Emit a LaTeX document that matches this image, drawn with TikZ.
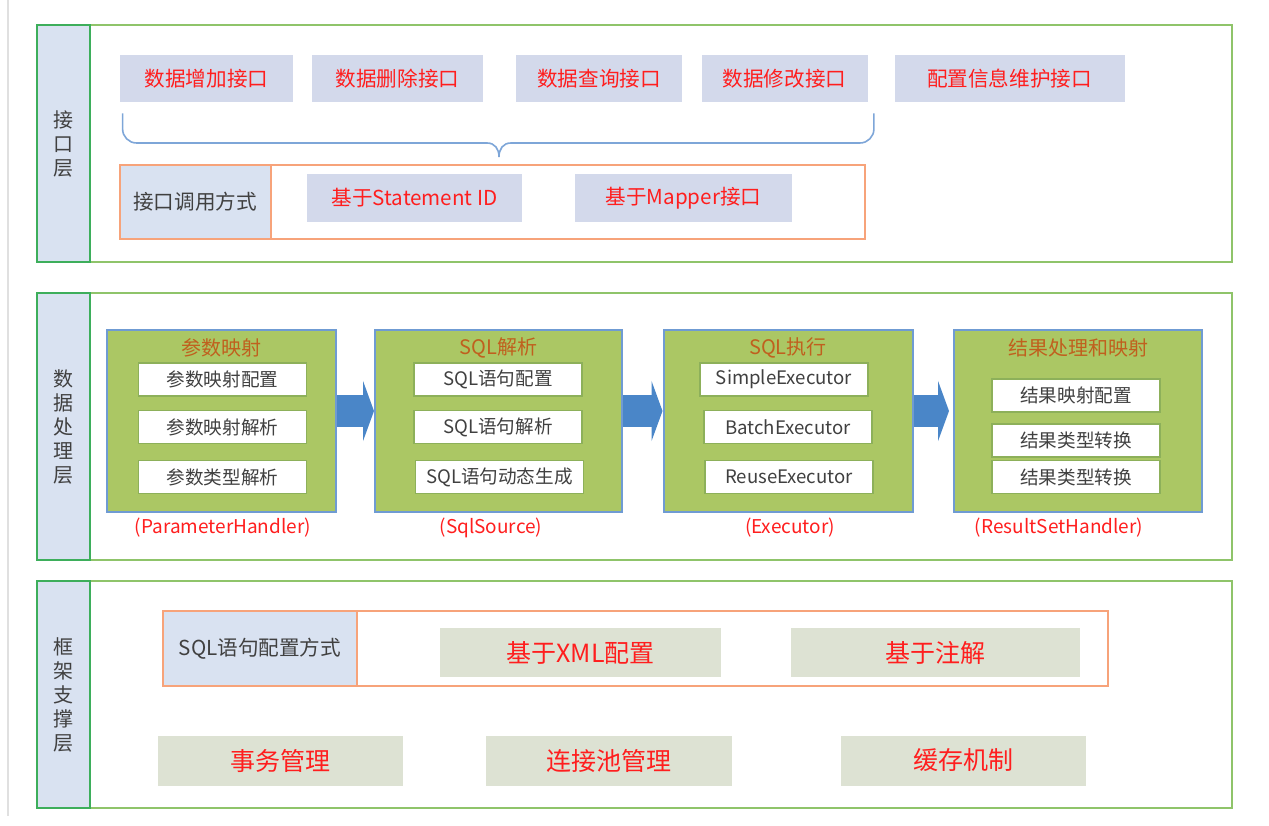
\documentclass[tikz,border=0pt]{standalone}
\usepackage{fontspec}
\setmainfont{Noto Sans CJK SC}
\usepackage{xcolor}
\usepackage{tikz}
\usetikzlibrary{arrows.meta,positioning,calc}
\definecolor{layerline}{HTML}{8FC46A}
\definecolor{stripline}{HTML}{3DAE5B}
\definecolor{stripfill}{HTML}{D9E2F1}
\definecolor{apifill}{HTML}{D3D9EB}
\definecolor{hotred}{HTML}{FF1E1E}
\definecolor{rowline}{HTML}{F7A37A}
\definecolor{braceblue}{HTML}{7EA6D8}
\definecolor{stagefill}{HTML}{ABC764}
\definecolor{stageline}{HTML}{6F9BD3}
\definecolor{subline}{HTML}{8DB05A}
\definecolor{titlebrown}{HTML}{C0601E}
\definecolor{flowblue}{HTML}{4A86C8}
\definecolor{sagefill}{HTML}{DDE2D3}
\definecolor{inktext}{HTML}{404040}
\tikzset{
	layer/.style={draw=layerline, line width=1pt, inner sep=0pt},
	strip/.style={draw=stripline, fill=stripfill, line width=1pt, inner sep=0pt,
		align=center, minimum width=26.5pt, text=inktext,
		font=\fontsize{10}{12}\selectfont},
	apibox/.style={fill=apifill, inner sep=0pt, text=hotred,
		font=\fontsize{10.3}{12}\selectfont},
	rowbox/.style={draw=rowline, line width=1pt, inner sep=0pt},
	cellbox/.style={draw=rowline, fill=stripfill, line width=1pt, inner sep=0pt,
		text=inktext, font=\fontsize{10.3}{12}\selectfont},
	sagebox/.style={fill=sagefill, inner sep=0pt, text=hotred,
		font=\fontsize{12.5}{14}\selectfont}
}

\begin{document}
\begin{tikzpicture}[x=0.5pt, y=-0.5pt,
	stage/.style={draw=stageline, fill=stagefill, line width=1pt, inner sep=0pt,
		minimum height=91pt},
	stagetitle/.style={text=titlebrown, inner sep=1pt, font=\fontsize{10}{12}\selectfont},
	subbox/.style={draw=subline, fill=white, line width=0.7pt, inner sep=0pt,
		minimum width=84pt, minimum height=16.5pt, text=inktext,
		font=\fontsize{9.3}{11}\selectfont},
	handler/.style={text=hotred, inner sep=1pt, font=\fontsize{9.5}{11}\selectfont},
	flow/.style={-{Triangle[length=5.5pt, width=30pt]}, line width=16pt, draw=flowblue},
	bracel/.style={draw=braceblue, line width=0.8pt},
	]
	\useasboundingbox (0,0) rectangle (1269,825);
	\draw[black!12, line width=0.6pt] (8,0) -- (8,816);
	
	%% -- Interface layer
	\node[layer, minimum width=597.5pt, minimum height=118.5pt] (L1) at (634.5,143.5) {};
	\node[strip, minimum height=118.5pt, anchor=west] (s1) at (L1.west) {接\\口\\层};
	
	\node[apibox, minimum width=86.5pt, minimum height=23.5pt] (add) at (206.5,78.5) {数据增加接口};
	\node[apibox, minimum width=85.5pt, minimum height=23.5pt] (del) at (397.5,78.5) {数据删除接口};
	\node[apibox, minimum width=83pt, minimum height=23.5pt] (qry) at (599,78.5) {数据查询接口};
	\node[apibox, minimum width=83pt, minimum height=23.5pt] (upd) at (784.5,78.5) {数据修改接口};
	\node[apibox, minimum width=115pt, minimum height=23.5pt] (cfg) at (1009.5,78.5) {配置信息维护接口};
	
	%% -- Brace under the four data interfaces
	\coordinate (bl) at ($(add.south west)+(3,11)$);
	\coordinate (br) at ($(upd.south east)+(6,11)$);
	\coordinate (bt) at (499,157);
	\draw[bracel, rounded corners=7pt] (bl) |- (487,143);
	\draw[bracel] (487,143) .. controls (495,143) and (499,149) .. (bt)
		.. controls (499,149) and (503,143) .. (511,143);
	\draw[bracel, rounded corners=7pt] (511,143) -| (br);
	
	%% -- Call style row
	\node[rowbox, minimum width=372.5pt, minimum height=37pt] (r1) at (492,202) {};
	\node[cellbox, minimum width=75.5pt, minimum height=37pt, anchor=west] (c1) at (r1.west) {接口调用方式};
	\node[apibox, minimum width=107.5pt, minimum height=24pt] (sid) at (414.5,198) {基于Statement ID};
	\node[apibox, minimum width=108.5pt, minimum height=24pt] (mpi) at (683.5,198) {基于Mapper接口};
	
	%% -- Data processing layer
	\node[layer, minimum width=597.5pt, minimum height=133.5pt] (L2) at (634.5,426.5) {};
	\node[strip, minimum height=133.5pt, anchor=west] (s2) at (L2.west) {数\\据\\处\\理\\层};
	
	\node[stage, minimum width=114.5pt] (pm) at (221.5,421) {};
	\node[stage, minimum width=123.5pt] (sp) at (498.5,421) {};
	\node[stage, minimum width=124.5pt] (ex) at (788,421) {};
	\node[stage, minimum width=124pt] (rs) at (1078,421) {};
	
	\node[stagetitle] (pmt) at (221.5,348) {参数映射};
	\node[stagetitle] (spt) at (498.5,348) {SQL解析};
	\node[stagetitle] (ext) at (788,348) {SQL执行};
	\node[stagetitle] (rst) at (1078,348) {结果处理和映射};
	
	\node[subbox] (pm1) at (222.5,379.5) {参数映射配置};
	\node[subbox] (pm2) at (222.5,427) {参数映射解析};
	\node[subbox] (pm3) at (222.5,477) {参数类型解析};
	
	\node[subbox] (sp1) at (498,379.5) {SQL语句配置};
	\node[subbox] (sp2) at (498,427) {SQL语句解析};
	\node[subbox] (sp3) at (499.5,477) {SQL语句动态生成};
	
	\node[subbox] (ex1) at (784,379.5) {SimpleExecutor};
	\node[subbox] (ex2) at (788,427) {BatchExecutor};
	\node[subbox] (ex3) at (789,477) {ReuseExecutor};
	
	\node[subbox] (rs1) at (1076,395.5) {结果映射配置};
	\node[subbox] (rs2) at (1076,440.5) {结果类型转换};
	\node[subbox] (rs3) at (1076,477) {结果类型转换};
	
	\draw[flow] ([yshift=5pt]pm.east) -- ([yshift=5pt]sp.west);
	\draw[flow] ([yshift=5pt]sp.east) -- ([yshift=5pt]ex.west);
	\draw[flow] ([yshift=5pt]ex.east) -- ([yshift=5pt,xshift=-2pt]rs.west);
	
	\node[handler] (pmh) at (223,528) {(ParameterHandler)};
	\node[handler] (sph) at (491,528) {(SqlSource)};
	\node[handler] (exh) at (790,528) {(Executor)};
	\node[handler] (rsh) at (1059,528) {(ResultSetHandler)};
	
	%% -- Framework support layer
	\node[layer, minimum width=597.5pt, minimum height=113.5pt] (L3) at (634.5,694.5) {};
	\node[strip, minimum height=113.5pt, anchor=west] (s3) at (L3.west) {框\\架\\支\\撑\\层};
	
	\node[rowbox, minimum width=472.5pt, minimum height=37.5pt] (r3) at (635.5,648.5) {};
	\node[cellbox, minimum width=97pt, minimum height=37.5pt, anchor=west] (c3) at (r3.west) {SQL语句配置方式};
	\node[sagebox, minimum width=140.5pt, minimum height=24.5pt] (xml) at (580.5,652.5) {基于XML配置};
	\node[sagebox, minimum width=144.5pt, minimum height=24.5pt] (ann) at (935,652.5) {基于注解};
	
	\node[sagebox, minimum width=122.5pt, minimum height=25pt] (tx) at (280.5,760.5) {事务管理};
	\node[sagebox, minimum width=123pt, minimum height=25pt] (pool) at (609,760.5) {连接池管理};
	\node[sagebox, minimum width=122.5pt, minimum height=25pt] (cache) at (963.5,760.5) {缓存机制};
	
\end{tikzpicture}
\end{document}
